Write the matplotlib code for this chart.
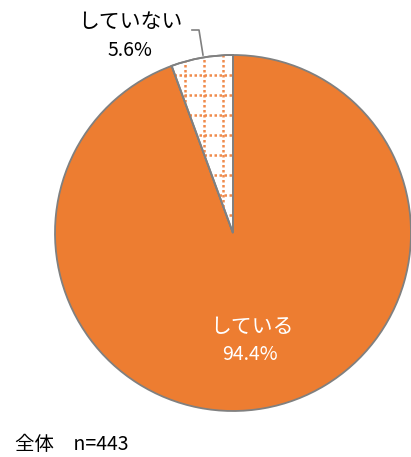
import matplotlib
matplotlib.use("Agg")
import matplotlib.pyplot as plt
import matplotlib.patches as mpatches

plt.rcParams['font.family'] = ['Noto Sans CJK JP', 'DejaVu Sans']

labels = ["している", "していない"]
values = [94.4, 5.6]
colors = ["#ED7D31", "white"]
note = "全体　n=443"

W, H = 411, 457
fig = plt.figure(figsize=(W/100, H/100), dpi=100)
cx, cy, r = 233, 233, 178
ax = fig.add_axes([(cx - r)/W, (H - cy - r)/H, 2*r/W, 2*r/H])

wedges, _ = ax.pie(values, colors=colors, startangle=90, counterclock=False,
                   radius=1, wedgeprops=dict(edgecolor='#808080', linewidth=1.3))
ax.set_xlim(-1, 1)
ax.set_ylim(-1, 1)
ax.set_aspect('equal')
ax.axis('off')
for w in wedges:
    w.set_clip_on(False)

# dotted grid pattern in small wedge
small = wedges[1]
for k in range(0, 12):
    x = -(10 + 19 * k) / r
    ln, = ax.plot([x, x], [-0.05, 1.05], linestyle=(0, (1, 1.0)), color='#F08A4B',
                  linewidth=1.8, zorder=1.5)
    ln.set_clip_path(small)
for k in range(0, 12):
    y = 1 - (20 / r) * (k + 1)
    ln, = ax.plot([-0.5, 0.0], [y, y], linestyle=(0, (1, 1.0)), color='#F08A4B',
                  linewidth=1.8, zorder=1.5)
    ln.set_clip_path(small)
small.set_zorder(1)
edge = mpatches.Wedge(small.center, small.r, small.theta1, small.theta2,
                      facecolor='none', edgecolor='#808080', linewidth=1.3, zorder=3)
edge.set_clip_on(False)
ax.add_patch(edge)

# labels
fig.text(252/W, 1 - 327/H, labels[0], color='white', fontsize=15, ha='center', va='center')
fig.text(250/W, 1 - 354/H, f"{values[0]:.1f}%", color='white', fontsize=14, ha='center', va='center')
fig.text(130/W, 1 - 22/H, labels[1], color='black', fontsize=15, ha='center', va='center')
fig.text(130/W, 1 - 50/H, f"{values[1]:.1f}%", color='black', fontsize=14, ha='center', va='center')

# leader line
fig.add_artist(plt.Line2D([192/W, 199/W, 203/W], [1 - 30/H, 1 - 30/H, 1 - 55/H],
                          color='#808080', linewidth=1.2))

fig.text(15/W, 1 - 445/H, note, color='black', fontsize=14, ha='left', va='center')

fig.savefig("out.png", dpi=100)
